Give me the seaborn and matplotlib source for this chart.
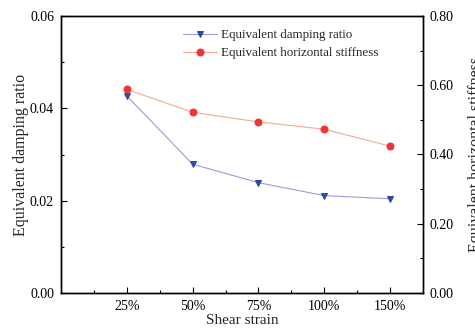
import matplotlib
matplotlib.use("Agg")
import matplotlib.pyplot as plt
import seaborn as sns
import pandas as pd
from matplotlib.ticker import MultipleLocator, FixedLocator

strain_labels = ["25%", "50%", "75%", "100%", "150%"]
damping_ratio = [0.0427, 0.0279, 0.0239, 0.0211, 0.0204]
horizontal_stiffness = [0.588, 0.522, 0.494, 0.473, 0.424]

sns.set_theme(style="ticks")
plt.rcParams["font.family"] = ["Liberation Serif", "DejaVu Serif"]
plt.rcParams["mathtext.fontset"] = "stix"

pos = list(range(1, len(strain_labels) + 1))
df = pd.DataFrame({"pos": pos, "label": strain_labels,
                   "damping": damping_ratio, "stiffness": horizontal_stiffness})

fig = plt.figure(figsize=(4.75, 3.28), dpi=100)
ax = fig.add_axes([61/475, 1 - 293/328, (423-61)/475, (293-16)/328])
ax2 = ax.twinx()

sns.lineplot(data=df, x="pos", y="damping", ax=ax, color="#9a9bd8", lw=0.8,
             marker="v", markersize=5, markerfacecolor="#2b4aa6",
             markeredgecolor="#2b4aa6", label="Equivalent damping ratio", legend=False)
sns.lineplot(data=df, x="pos", y="stiffness", ax=ax2, color="#f7a897", lw=0.8,
             marker="o", markersize=5, markerfacecolor="#ee3535",
             markeredgecolor="#ee3535", label="Equivalent horizontal stiffness", legend=False)

ax.set_xlim(0, 5.5)
ax.set_ylim(0, 0.06)
ax2.set_ylim(0, 0.8)
ax.set_xticks(pos)
ax.set_xticklabels(strain_labels)
ax.xaxis.set_minor_locator(FixedLocator([0.5, 1.5, 2.5, 3.5, 4.5]))
ax.yaxis.set_major_locator(MultipleLocator(0.02))
ax.yaxis.set_minor_locator(MultipleLocator(0.01))
ax2.yaxis.set_major_locator(MultipleLocator(0.2))
ax2.yaxis.set_minor_locator(MultipleLocator(0.1))
ax.yaxis.set_major_formatter(plt.FormatStrFormatter("%.2f"))
ax2.yaxis.set_major_formatter(plt.FormatStrFormatter("%.2f"))

for a in (ax, ax2):
    for s in a.spines.values():
        s.set_visible(True)
        s.set_color("black")
        s.set_linewidth(1.0)
    a.tick_params(which="both", direction="in", colors="black", labelsize=10, width=0.8)
    a.tick_params(which="major", length=4)
    a.tick_params(which="minor", length=2.5)
ax.tick_params(axis="x", which="both", top=False)
ax.tick_params(axis="x", pad=5)
ax2.tick_params(axis="y", pad=5)
ax.tick_params(axis="y", pad=5)

ax.set_xlabel("Shear strain", fontsize=11, labelpad=1)
ax.set_ylabel("Equivalent damping ratio", fontsize=11.5, labelpad=1)
ax2.set_ylabel("Equivalent horizontal stiffness", fontsize=11.5, labelpad=10)

h1, l1 = ax.get_legend_handles_labels()
h2, l2 = ax2.get_legend_handles_labels()
ax.legend(h1 + h2, l1 + l2, loc="upper left", bbox_to_anchor=(0.337, 0.952),
          frameon=False, fontsize=9.4, handlelength=2.6, handletextpad=0.3,
          labelspacing=0.45, borderaxespad=0, borderpad=0)

fig.savefig("out.png", dpi=100)
